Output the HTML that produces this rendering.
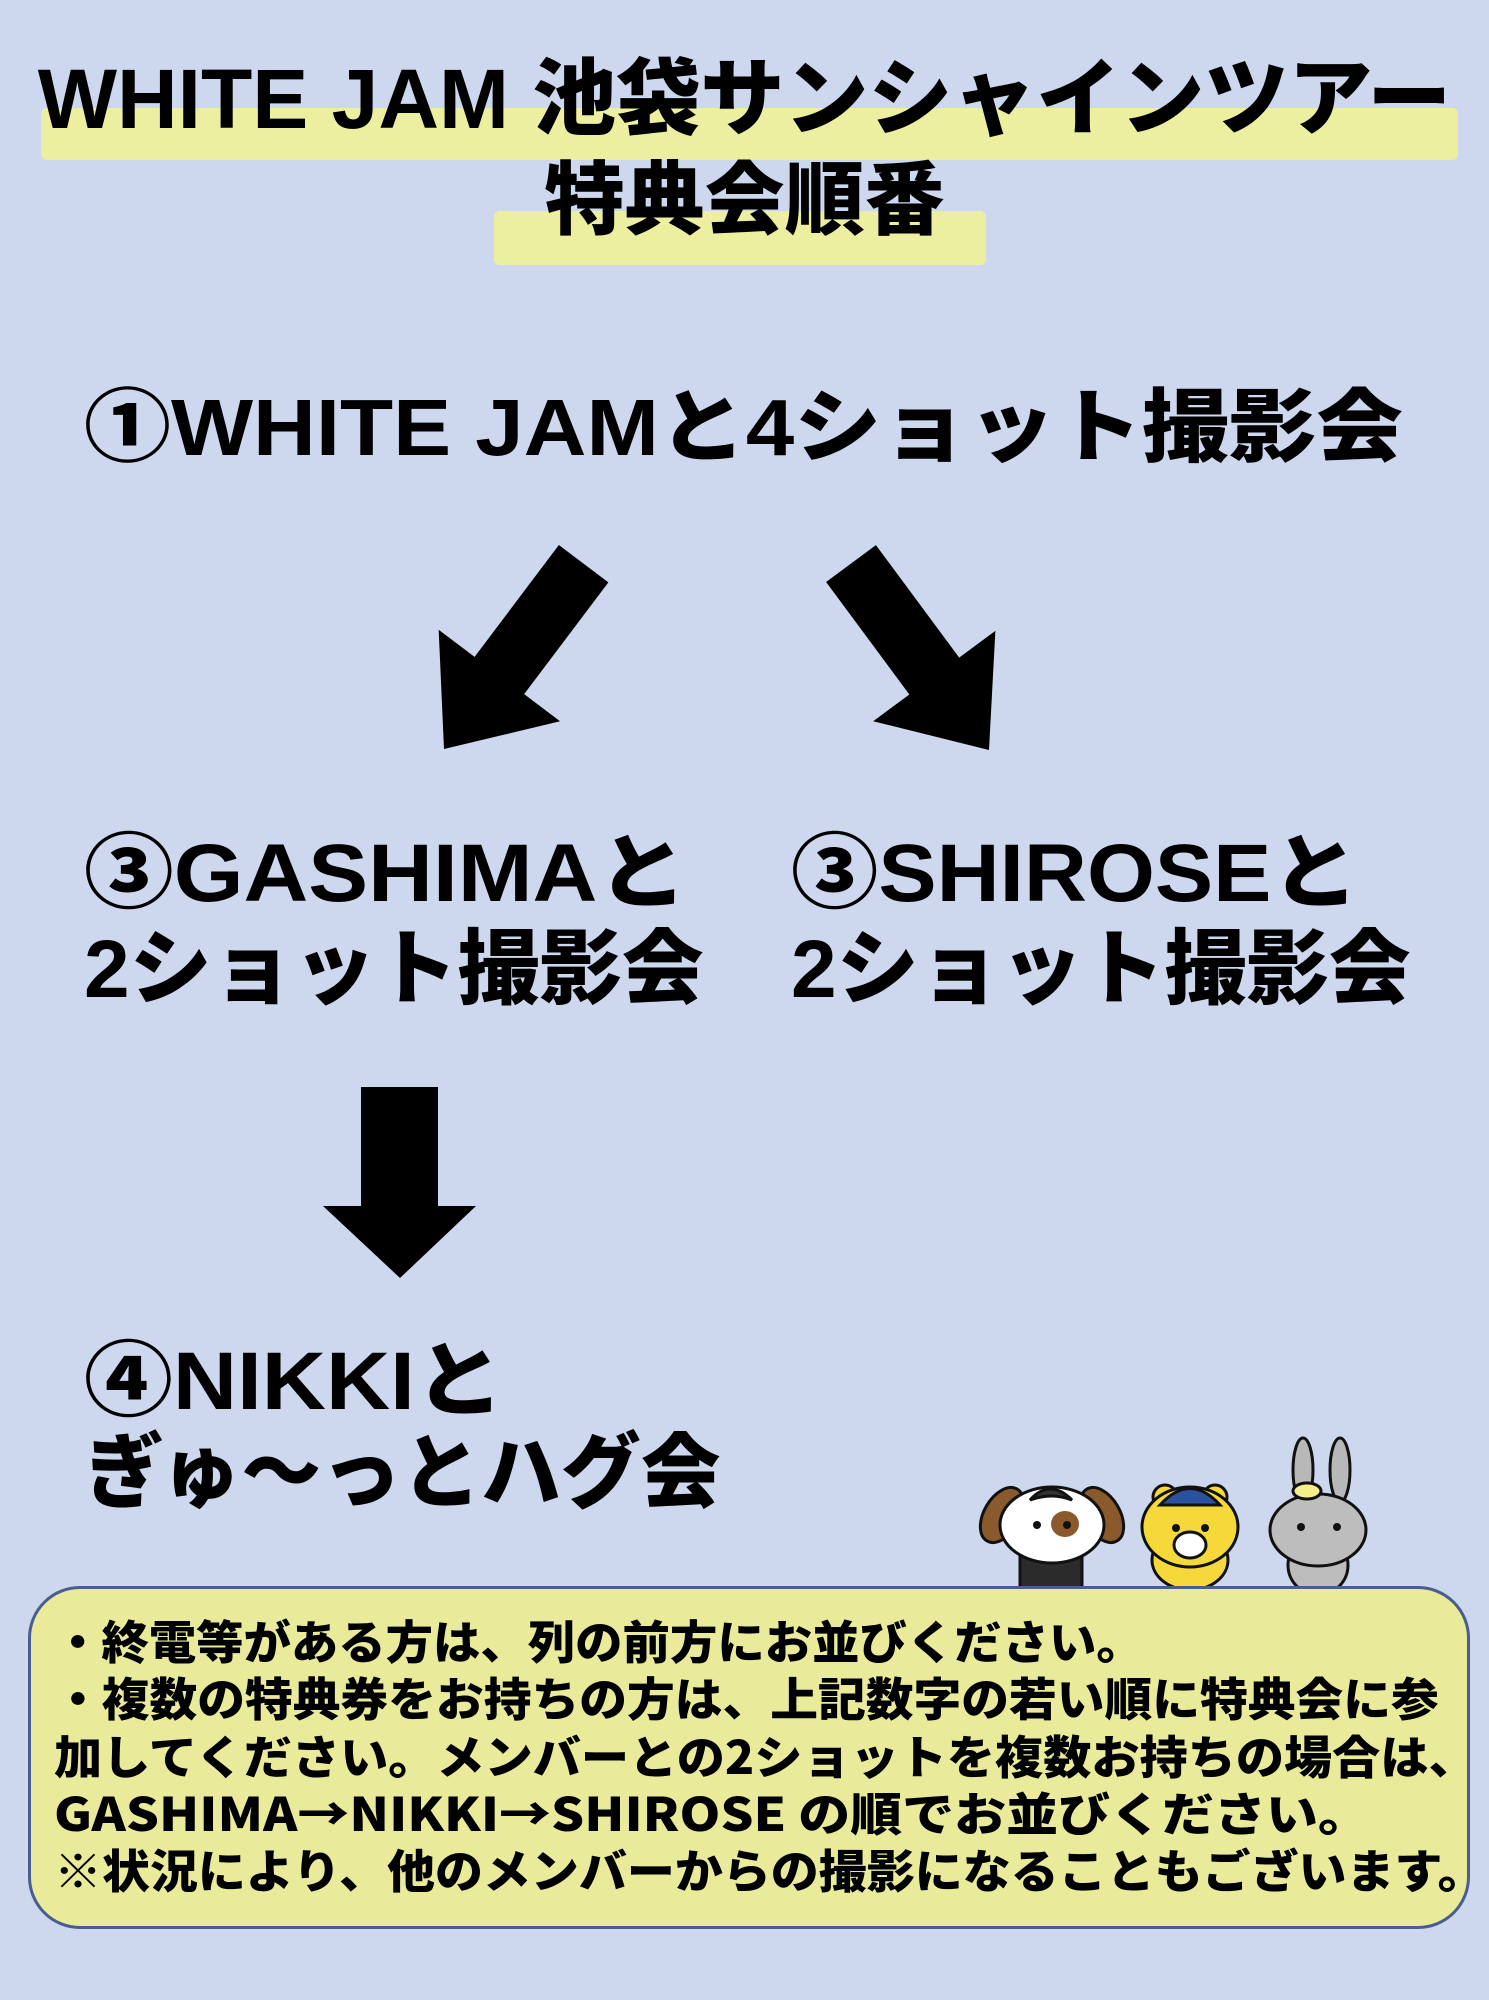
<!DOCTYPE html>
<html><head><meta charset="utf-8">
<style>
html,body{margin:0;padding:0}
body{width:1489px;height:2000px;background:#cdd8ee;position:relative;overflow:hidden;font-family:"Liberation Sans","Noto Sans CJK JP",sans-serif;font-weight:900;color:#000}
.t{position:absolute;white-space:nowrap;line-height:1;transform-origin:0 50%}
.hl{position:absolute;background:#ecefa0;border-radius:6px}
.box{position:absolute;left:28px;top:1586px;width:1442px;height:343px;background:#e9eb9b;border:3px solid #4a5e8e;border-radius:52px;box-sizing:border-box}
.n{font-size:46px;font-family:"Noto Sans CJK JP","Liberation Sans",sans-serif}
</style></head><body>
<div class="hl" style="left:41px;top:108px;width:1417px;height:52px"></div>
<div class="hl" style="left:494px;top:211px;width:492px;height:54px"></div>
<div class="t" style="left:0;width:1489px;text-align:center;top:57px;font-size:84px">WHITE JAM 池袋サンシャインツアー</div>
<div class="t" style="left:0;width:1489px;text-align:center;top:161px;font-size:80px">特典会順番</div>

<div class="t" style="left:84px;top:388px;font-size:80px;transform:scaleX(1.087)">①WHITE JAMと4ショット撮影会</div>

<svg style="position:absolute;left:0;top:0" width="1489" height="2000">
<g fill="#000">
<polygon transform="translate(444,749) rotate(37)" points="-31,-232 31,-232 31,-92 76,-92 0,0 -76,-92 -31,-92"/>
<polygon transform="translate(989,750) rotate(-36.5)" points="-31,-232 31,-232 31,-92 76,-92 0,0 -76,-92 -31,-92"/>
<polygon points="361,1087 438,1087 438,1206 476,1206 400,1278 323,1206 361,1206"/>
</g>
<g stroke="#111" stroke-width="3">
<rect x="1020" y="1555" width="62" height="40" fill="#2b2b2b"/>
<ellipse cx="1002" cy="1515" rx="18" ry="30" fill="#8a5a2c" transform="rotate(30 1002 1515)"/>
<ellipse cx="1102" cy="1515" rx="18" ry="30" fill="#8a5a2c" transform="rotate(-30 1102 1515)"/>
<ellipse cx="1052" cy="1525" rx="52" ry="38" fill="#fff"/>
<ellipse cx="1065" cy="1524" rx="14" ry="13" fill="#8a5a2c" stroke="none"/>
<path d="M1030 1500 Q1050 1478 1072 1500 Q1052 1492 1030 1500Z" fill="#333"/>
<ellipse cx="1190" cy="1560" rx="38" ry="30" fill="#f5d93a"/>
<circle cx="1165" cy="1497" r="12" fill="#f5d93a"/>
<circle cx="1215" cy="1497" r="12" fill="#f5d93a"/>
<ellipse cx="1190" cy="1527" rx="48" ry="40" fill="#f5d93a"/>
<path d="M1160 1505 Q1190 1472 1220 1505Z" fill="#2a52a0"/>
<ellipse cx="1190" cy="1545" rx="16" ry="13" fill="#fff"/>
<ellipse cx="1303" cy="1470" rx="10" ry="32" fill="#b8b8b8"/>
<ellipse cx="1340" cy="1470" rx="10" ry="32" fill="#b8b8b8"/>
<ellipse cx="1318" cy="1565" rx="30" ry="30" fill="#bdbdbd"/>
<ellipse cx="1318" cy="1530" rx="48" ry="36" fill="#bdbdbd"/>
<ellipse cx="1307" cy="1491" rx="14" ry="8" fill="#f5ef8a"/>
</g>
<g fill="#111">
<circle cx="1037" cy="1525" r="4"/><circle cx="1067" cy="1525" r="4"/>
<circle cx="1176" cy="1528" r="4"/><circle cx="1205" cy="1528" r="4"/>
<circle cx="1301" cy="1527" r="4"/><circle cx="1337" cy="1527" r="4"/>
</g>
</svg>

<div class="t" style="left:84px;top:833px;font-size:82px;transform:scaleX(1.094)">③GASHIMAと</div>
<div class="t" style="left:84px;top:929px;font-size:82px">2ショット撮影会</div>
<div class="t" style="left:791px;top:833px;font-size:82px;transform:scaleX(1.065)">③SHIROSEと</div>
<div class="t" style="left:791px;top:929px;font-size:82px">2ショット撮影会</div>
<div class="t" style="left:84px;top:1341px;font-size:82px;transform:scaleX(1.084)">④NIKKIと</div>
<div class="t" style="left:84px;top:1433px;font-size:82px;transform:scaleX(0.974)">ぎゅ〜っとハグ会</div>

<div class="box"></div>
<div class="t n" style="left:54px;top:1617px;transform:scaleX(1.03)">・終電等がある方は、列の前方にお並びください。</div>
<div class="t n" style="left:54px;top:1674px;transform:scaleX(1.038)">・複数の特典券をお持ちの方は、上記数字の若い順に特典会に参</div>
<div class="t n" style="left:54px;top:1732px;transform:scaleX(1.047)">加してください。メンバーとの2ショットを複数お持ちの場合は、</div>
<div class="t n" style="left:54px;top:1789px;transform:scaleX(1.13)">GASHIMA→NIKKI→SHIROSE の順でお並びください。</div>
<div class="t n" style="left:54px;top:1846px;transform:scaleX(1.043)">※状況により、他のメンバーからの撮影になることもございます。</div>
</body></html>
